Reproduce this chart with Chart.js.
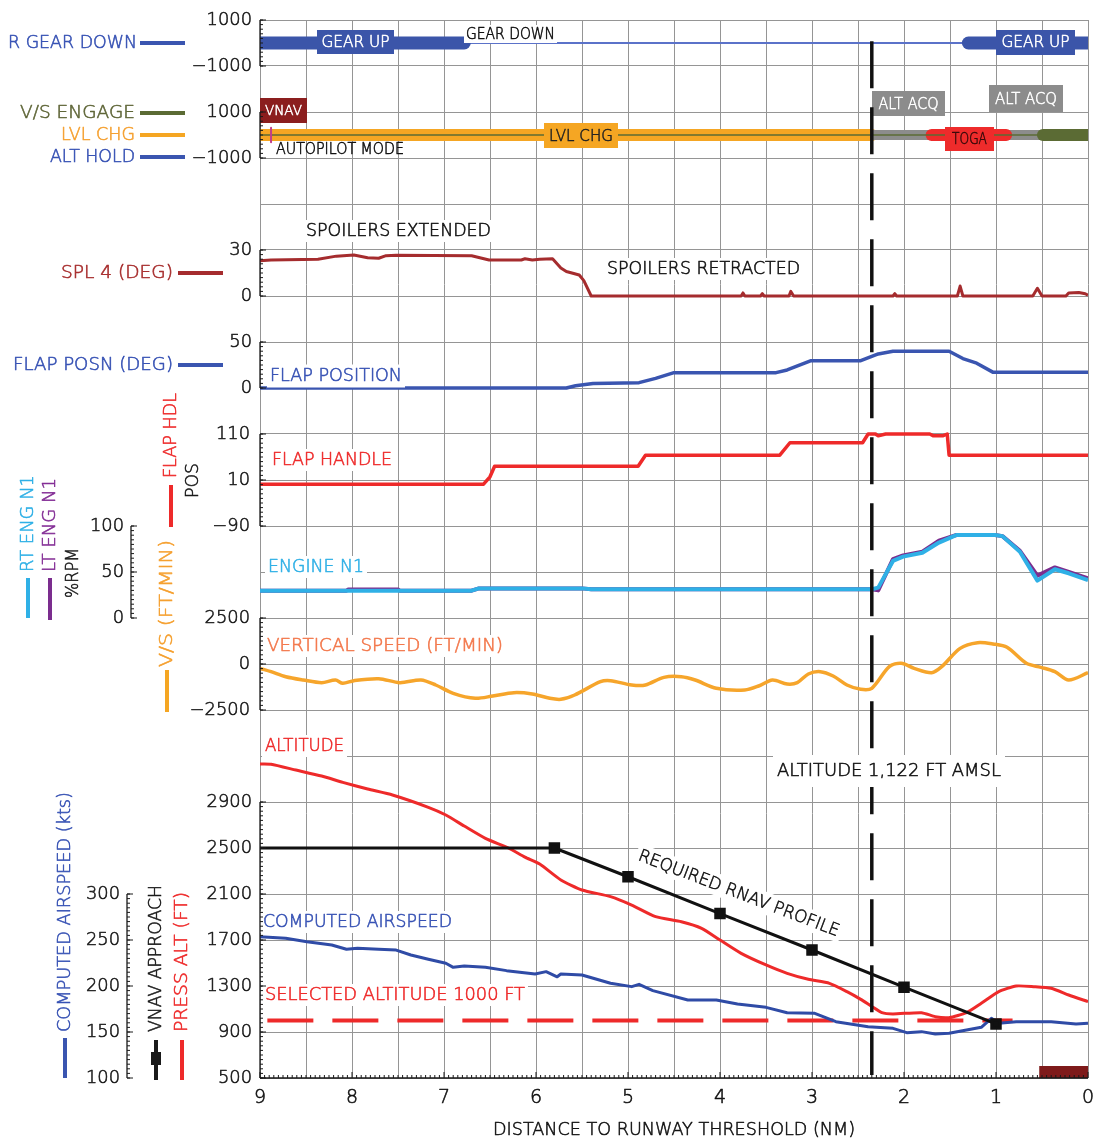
<!DOCTYPE html>
<html><head><meta charset="utf-8">
<script src="https://cdn.jsdelivr.net/npm/chart.js@4.4.1/dist/chart.umd.min.js"></script>
<style>html,body{margin:0;padding:0;background:#fff;}#wrap{width:1093px;height:1139px;}</style>
</head><body><div id="wrap"><canvas id="c" width="1093" height="1139"></canvas></div>
<script>
// ================= DATA =================
const distTicks = [9, 8, 7, 6, 5, 4, 3, 2, 1, 0];
const eventDist = [2.35, 2.35];
const eventSpan = [22.54, 0.065];

// Gear (R GEAR DOWN) state
const gearLineX = [9, 0];          const gearLineY = [0, 0];
const gearUp1X = [9, 6.78];        const gearUp1Y = [0, 0];
const gearUp2X = [1.30, 0];        const gearUp2Y = [0, 0];

// Autopilot mode state
const apLvlChgX = [9, 2.35];       const apLvlChgY = [0, 0];
const apAltAcqX = [2.35, 0.49];    const apAltAcqY = [0, 0];
const apTogaX = [1.70, 0.89];      const apTogaY = [0, 0];
const apVsX = [0.49, 0];           const apVsY = [0, 0];
const apLineX = [9, 0];            const apLineY = [0, 0];
const apMarkX = [8.88, 8.88];      const apMarkY = [320, -320];

// SPL 4 (deg)
const splX = [9, 8.88, 8.37, 8.17, 7.98, 7.83, 7.71, 7.63, 7.52, 6.70, 6.51, 6.16, 6.12, 6.04, 5.96, 5.82, 5.73, 5.67, 5.53, 5.48, 5.40, 3.77, 3.75, 3.73, 3.56, 3.54, 3.52, 3.25, 3.23, 3.20, 2.12, 2.10, 2.08, 1.42, 1.39, 1.36, 0.60, 0.55, 0.50, 0.24, 0.21, 0.10, 0.03, 0];
const splY = [23, 23.5, 24, 26, 26.7, 25, 24.6, 26.3, 26.5, 26.3, 23.5, 23.5, 24.3, 23.5, 24, 24.3, 18.3, 16, 13.7, 10, 0, 0, 2, 0, 0, 1.5, 0, 0, 3, 0, 0, 1.5, 0, 0, 6.5, 0, 0, 5, 0, 0, 2, 2.3, 1.5, 0.5];

// Flap position (deg)
const flapX = [9, 5.67, 5.57, 5.38, 4.88, 4.70, 4.50, 3.39, 3.27, 3.01, 2.47, 2.28, 2.12, 1.51, 1.36, 1.21, 1.03, 0];
const flapY = [0, 0, 2.5, 5, 5.8, 10.5, 16.7, 16.7, 19.6, 29.7, 29.7, 37, 40, 40, 32, 27, 17, 17];

// Flap handle position
const hdlX = [9, 6.57, 6.50, 6.45, 4.89, 4.81, 3.35, 3.24, 2.45, 2.39, 2.31, 2.28, 2.20, 1.72, 1.68, 1.58, 1.53, 1.51, 0];
const hdlY = [1, 1, 17, 40, 40, 64, 64, 91, 91, 110, 110, 106, 110, 110, 106, 106, 110, 64, 64];

// Engine N1 (%RPM)
const n1RtX = [9, 6.70, 6.62, 5.50, 5.40, 2.35, 2.28, 2.12, 2.01, 1.80, 1.62, 1.47, 1.43, 1.01, 0.93, 0.74, 0.55, 0.36, 0.21, 0];
const n1RtY = [29.7, 29.7, 32.2, 32.2, 31.2, 31.2, 33, 62, 66.7, 71, 82, 88.4, 90.2, 90.2, 89, 72, 40.6, 53, 48.6, 41.3];
const n1LtX = [9, 8.06, 8.04, 7.50, 7.48, 6.70, 6.62, 5.50, 5.40, 2.35, 2.28, 2.12, 2.01, 1.80, 1.62, 1.47, 1.43, 1.01, 0.93, 0.74, 0.55, 0.36, 0.21, 0];
const n1LtY = [29.7, 29.7, 31, 31, 29.7, 29.7, 32.2, 32.2, 31.2, 31.2, 30, 64, 68, 72, 84, 89, 90.2, 90.2, 89, 73, 46, 55, 50, 43];

// Vertical speed (ft/min)
const vsX = [9.0, 8.88, 8.72, 8.53, 8.33, 8.18, 8.10, 7.98, 7.71, 7.48, 7.25, 7.09, 6.90, 6.66, 6.47, 6.24, 6.04, 5.85, 5.73, 5.58, 5.30, 5.19, 4.96, 4.81, 4.61, 4.42, 4.27, 4.04, 3.73, 3.58, 3.43, 3.27, 3.16, 3.04, 2.91, 2.77, 2.62, 2.47, 2.35, 2.16, 2.03, 1.89, 1.70, 1.59, 1.39, 1.20, 1.03, 0.88, 0.67, 0.51, 0.36, 0.21, 0];
const vsY = [-235, -417, -690, -870, -1014, -870, -1050, -905, -797, -1014, -870, -1141, -1594, -1865, -1739, -1558, -1630, -1865, -1920, -1685, -960, -905, -1141, -1141, -725, -690, -870, -1322, -1413, -1196, -870, -1087, -1014, -543, -417, -652, -1141, -1377, -1322, -145, 36, -235, -472, -145, 851, 1159, 1087, 906, 36, -181, -417, -870, -472];

// Pressure altitude (ft)
const altX = [9.0, 8.88, 8.61, 8.33, 8.10, 7.83, 7.56, 7.17, 6.98, 6.78, 6.55, 6.30, 6.12, 5.96, 5.73, 5.50, 5.19, 4.96, 4.70, 4.42, 4.20, 4.00, 3.77, 3.50, 3.27, 3.04, 2.81, 2.62, 2.47, 2.35, 2.24, 2.12, 1.81, 1.66, 1.51, 1.32, 1.16, 0.97, 0.78, 0.59, 0.40, 0.21, 0];
const altY = [3230, 3228, 3178, 3126, 3071, 3013, 2961, 2854, 2787, 2691, 2584, 2500, 2420, 2360, 2222, 2135, 2077, 2004, 1903, 1859, 1802, 1700, 1584, 1483, 1410, 1358, 1323, 1251, 1184, 1122, 1068, 1057, 1068, 1033, 1025, 1068, 1149, 1251, 1300, 1294, 1280, 1222, 1164];

// Selected altitude (ft)
const selAltX = [8.92, 0.82];      const selAltY = [1000, 1000];

// Computed airspeed (kts)
const spdX = [9.0, 8.72, 8.49, 8.22, 8.06, 7.94, 7.71, 7.52, 7.36, 7.17, 6.98, 6.90, 6.78, 6.55, 6.32, 6.01, 5.89, 5.77, 5.73, 5.50, 5.19, 4.96, 4.88, 4.73, 4.35, 4.04, 3.81, 3.50, 3.27, 2.97, 2.74, 2.39, 2.12, 1.97, 1.81, 1.66, 1.51, 1.32, 1.16, 1.05, 0.97, 0.78, 0.40, 0.13, 0];
const spdY = [253.6, 251.8, 248.2, 244.6, 239.9, 241, 240, 239, 233.7, 229, 224.7, 220.3, 221.7, 220.3, 216.7, 213, 215.6, 210, 213, 212, 203, 199.3, 201.8, 195, 184.8, 184.8, 180.4, 176.8, 171, 170.3, 161.2, 155.8, 154, 149.3, 150.4, 147.8, 148.6, 152.2, 155.1, 164.9, 159.5, 161.2, 161.2, 158.7, 159.5];

// Required RNAV (VNAV approach) profile (ft)
const vnavX = [9, 5.80, 5.0, 4.0, 3.0, 2.0, 1.0];
const vnavY = [2500, 2500, 2250, 1930, 1613, 1290, 970];

// Ground state bar (bottom right)
const gndX = [0.53, 0];            const gndY = [552, 552];

// Tick labels
const gearTicks = [1000, -1000];
const apTicks = [1000, -1000];
const splTicks = [30, 0];
const flapTicks = [50, 0];
const hdlTicks = [110, 10, -90];
const vsTicks = [2500, 0, -2500];
const altTicks = [2900, 2500, 2100, 1700, 1300, 900, 500];
const n1Ticks = [100, 50, 0];
const spdTicks = [300, 250, 200, 150, 100];

// ================= RENDER =================
const FONT = '"DejaVu Sans", sans-serif';
const WEIGHT = '200';
const pts = (xs, ys) => xs.map((x, i) => ({ x, y: ys[i] }));

function drawText(ctx, s, o) {
  ctx.save();
  const size = o.size || 17;
  ctx.font = WEIGHT + ' ' + size + 'px ' + FONT;
  const m = ctx.measureText(s).width;
  const sx = o.w ? o.w / m : (o.sx || 1);
  const W = m * sx;
  ctx.translate(o.x, o.y);
  if (o.rot) ctx.rotate(o.rot);
  let x0 = 0;
  if (o.align === 'right') x0 = -W; else if (o.align === 'center') x0 = -W / 2;
  if (o.bg) {
    const p = o.pad != null ? o.pad : 3, h = o.bh || size + 5;
    ctx.fillStyle = o.bg;
    ctx.fillRect(x0 - p, -h / 2, W + 2 * p, h);
  }
  ctx.translate(x0, 0);
  ctx.scale(sx, 1);
  const col = o.color || '#111';
  ctx.fillStyle = col;
  ctx.strokeStyle = col;
  ctx.lineWidth = 0.55;
  ctx.lineJoin = 'round';
  ctx.textBaseline = 'middle';
  ctx.textAlign = 'left';
  const dy = o.dy != null ? o.dy : 1;
  ctx.fillText(s, 0, dy);
  ctx.strokeText(s, 0, dy);
  ctx.restore();
}
function box(ctx, x0, y0, x1, y1, fill, s, tcol, size, tw) {
  ctx.fillStyle = fill;
  ctx.fillRect(x0, y0, x1 - x0, y1 - y0);
  drawText(ctx, s, { x: (x0 + x1) / 2, y: (y0 + y1) / 2, align: 'center', size, color: tcol, w: tw });
}
function seg(ctx, x0, y0, x1, y1, col, w) {
  ctx.save(); ctx.strokeStyle = col; ctx.lineWidth = w; ctx.lineCap = 'butt';
  ctx.beginPath(); ctx.moveTo(x0, y0); ctx.lineTo(x1, y1); ctx.stroke(); ctx.restore();
}

const C = {
  blue: '#3a55b0', blueTxt: '#3752b4', thinBlue: '#5b72c9', orange: '#f5a623', olive: '#5b6b34',
  gray: '#8c8c8c', red: '#ee2a2a', spl: '#a52c2e', cyan: '#2fb0e6', purple: '#7b2d8e', vs: '#f6a52b',
  spd: '#2f4ba6', maroon: '#7e1a1a'
};

function drawAxis(chart, id, vals, x, labelRight, dir) {
  const ctx = chart.ctx, sc = chart.scales[id], g = chart.scales.yGrid;
  const gp = g.getPixelForValue(0) - g.getPixelForValue(1);
  const p0 = sc.getPixelForValue(vals[0]), p1 = sc.getPixelForValue(vals[vals.length - 1]);
  ctx.save();
  ctx.strokeStyle = '#1a1a1a'; ctx.lineWidth = 1.3;
  ctx.beginPath(); ctx.moveTo(x, p0); ctx.lineTo(x, p1); ctx.stroke();
  ctx.lineWidth = 1;
  for (let p = p0; p <= p1 + 0.1; p += gp / 10) {
    ctx.beginPath(); ctx.moveTo(x, p); ctx.lineTo(x + 3 * dir, p); ctx.stroke();
  }
  for (const v of vals) {
    const p = sc.getPixelForValue(v);
    ctx.beginPath(); ctx.moveTo(x, p); ctx.lineTo(x + 6 * dir, p); ctx.stroke();
    const s = v < 0 ? '\u2212' + Math.abs(v) : String(v);
    drawText(ctx, s, { x: labelRight, y: p, align: 'right', size: 17, sx: 1.05, color: '#1a1a1a' });
  }
  ctx.restore();
}

function underLabels(chart) {
  const ctx = chart.ctx;
  drawText(ctx, 'GEAR DOWN', { x: 466, y: 34, w: 89, size: 15, bg: '#fff', bh: 18, pad: 2 });
  box(ctx, 317, 30, 394, 54, '#3b55a9', 'GEAR UP', '#fff', 15, 68);
  box(ctx, 996, 30, 1075, 55, '#3b55a9', 'GEAR UP', '#fff', 15, 68);
  box(ctx, 260, 98, 307, 123, '#8b1e1e', 'VNAV', '#fff', 14, 37);
  drawText(ctx, 'AUTOPILOT MODE', { x: 276, y: 149, w: 128, size: 15 });
  box(ctx, 544, 123, 618, 148, '#f5a623', 'LVL CHG', '#222', 16, 64);
  box(ctx, 872, 91, 945, 116, '#8c8c8c', 'ALT ACQ', '#fff', 16, 60);
  box(ctx, 989, 85, 1063, 112, '#8c8c8c', 'ALT ACQ', '#fff', 16, 62);
  box(ctx, 945, 127, 994, 151, '#ee2b2b', 'TOGA', '#3a0a0a', 15, 35);
  drawText(ctx, 'SPOILERS EXTENDED', { x: 306, y: 231, w: 185, bg: '#fff' });
  drawText(ctx, 'SPOILERS RETRACTED', { x: 607, y: 269, w: 193, bg: '#fff' });
  drawText(ctx, 'FLAP HANDLE', { x: 272, y: 460, w: 120, color: C.red, bg: '#fff' });
  drawText(ctx, 'ENGINE N1', { x: 268, y: 567, w: 96, color: C.cyan, bg: '#fff' });
  drawText(ctx, 'VERTICAL SPEED (FT/MIN)', { x: 267, y: 646, w: 236, color: '#f3784c', bg: '#fff' });
  drawText(ctx, 'ALTITUDE', { x: 265, y: 746, w: 79, color: C.red, bg: '#fff' });
  drawText(ctx, 'REQUIRED RNAV PROFILE', { x: 739, y: 893, w: 214, align: 'center', rot: 21 * Math.PI / 180, bg: '#fff' });
  drawText(ctx, 'COMPUTED AIRSPEED', { x: 263, y: 922, w: 189, color: C.blueTxt, bg: '#fff' });
  drawText(ctx, 'SELECTED ALTITUDE 1000 FT', { x: 265, y: 995, w: 260, color: C.red, bg: '#fff' });
}

function overLabels(chart) {
  const ctx = chart.ctx, ca = chart.chartArea;
  drawText(ctx, 'FLAP POSITION', { x: 270, y: 376, w: 132, color: C.blueTxt, bg: '#fff', bh: 23 });
  drawText(ctx, 'ALTITUDE 1,122 FT AMSL', { x: 777, y: 771, w: 224, bg: '#fff', bh: 32, pad: 4 });

  drawAxis(chart, 'yGear', gearTicks, ca.left, 252, 1);
  drawAxis(chart, 'yAP', apTicks, ca.left, 252, 1);
  drawAxis(chart, 'ySPL', splTicks, ca.left, 252, 1);
  drawAxis(chart, 'yFLAP', flapTicks, ca.left, 252, 1);
  drawAxis(chart, 'yHDL', hdlTicks, ca.left, 250, 1);
  drawAxis(chart, 'yVS', vsTicks, ca.left, 250, 1);
  drawAxis(chart, 'yALT', altTicks, ca.left, 252, 1);
  drawAxis(chart, 'yN1', n1Ticks, 131, 124, 1);
  drawAxis(chart, 'ySPD', spdTicks, 127, 120, 1);

  const xs = chart.scales.x;
  ctx.save();
  ctx.strokeStyle = '#1a1a1a'; ctx.lineWidth = 1.3;
  ctx.beginPath(); ctx.moveTo(ca.left, ca.bottom); ctx.lineTo(ca.right, ca.bottom); ctx.stroke();
  ctx.lineWidth = 1;
  for (let k = 0; k <= 180; k++) {
    const p = xs.getPixelForValue(k / 20);
    const L = (k % 20 === 0) ? 6 : 3;
    ctx.beginPath(); ctx.moveTo(p, ca.bottom); ctx.lineTo(p, ca.bottom - L); ctx.stroke();
  }
  ctx.restore();
  for (const v of distTicks) {
    drawText(ctx, String(v), { x: xs.getPixelForValue(v), y: 1097, align: 'center', size: 19 });
  }
  drawText(ctx, 'DISTANCE TO RUNWAY THRESHOLD (NM)', { x: 493, y: 1129, w: 362, size: 18 });

  const L = [
    ['R GEAR DOWN', 8, 43, 129, C.blueTxt, 140, 185, C.blue],
    ['V/S ENGAGE', 20, 113, 115, '#5f6638', 140, 185, C.olive],
    ['LVL CHG', 61, 135, 74, '#f5a030', 140, 185, C.orange],
    ['ALT HOLD', 50, 157, 85, C.blueTxt, 140, 185, C.blue],
    ['SPL 4 (DEG)', 61, 273, 112, '#a83030', 178, 223, C.spl],
    ['FLAP POSN (DEG)', 13, 365, 160, C.blueTxt, 178, 223, C.blue]
  ];
  for (const [t, x, y, w, col, l0, l1, lc] of L) {
    drawText(ctx, t, { x, y, w, color: col, size: 17 });
    seg(ctx, l0, y, l1, y, lc, 4);
  }
  const up = -Math.PI / 2;
  const R = [
    ['FLAP HDL', 171, 478, 85, C.red, 485, 527, C.red],
    ['POS', 193, 498, 35, '#1a1a1a'],
    ['RT ENG N1', 28, 572, 97, C.cyan, 578, 618, C.cyan],
    ['LT ENG N1', 50, 572, 94, '#842f96', 578, 620, C.purple],
    ['%RPM', 73, 598, 50, '#1a1a1a'],
    ['V/S (FT/MIN)', 167, 667, 127, '#f5a030', 670, 712, C.orange],
    ['COMPUTED AIRSPEED (kts)', 65, 1032, 240, C.blueTxt, 1038, 1078, C.blue],
    ['VNAV APPROACH', 156, 1032, 147, '#1a1a1a', 1040, 1080, '#1a1a1a'],
    ['PRESS ALT (FT)', 182, 1032, 140, C.red, 1040, 1080, C.red]
  ];
  for (const r of R) {
    drawText(ctx, r[0], { x: r[1], y: r[2], w: r[3], color: r[4], rot: up, size: 17 });
    if (r[5]) seg(ctx, r[1], r[5], r[1], r[6], r[7], 4);
  }
  ctx.fillStyle = '#1a1a1a';
  ctx.fillRect(151, 1052, 10, 13);
}

const decor = {
  id: 'decor',
  beforeDatasetDraw(chart, args) {
    if (chart.data.datasets[args.index].isEvent) underLabels(chart);
  },
  afterDatasetsDraw(chart) { overLabels(chart); }
};

const base = { pointRadius: 0, fill: false, tension: 0, borderJoinStyle: 'round', spanGaps: false };
const ds = [
  { data: pts(gearLineX, gearLineY), yAxisID: 'yGear', borderColor: C.thinBlue, borderWidth: 1.8 },
  { data: pts(gearUp1X, gearUp1Y), yAxisID: 'yGear', borderColor: '#3b55a9', borderWidth: 13, borderCapStyle: 'round' },
  { data: pts(gearUp2X, gearUp2Y), yAxisID: 'yGear', borderColor: '#3b55a9', borderWidth: 13, borderCapStyle: 'round' },
  { data: pts(apLvlChgX, apLvlChgY), yAxisID: 'yAP', borderColor: C.orange, borderWidth: 12, borderCapStyle: 'round' },
  { data: pts(apAltAcqX, apAltAcqY), yAxisID: 'yAP', borderColor: C.gray, borderWidth: 10 },
  { data: pts(apTogaX, apTogaY), yAxisID: 'yAP', borderColor: '#ee2b2b', borderWidth: 12, borderCapStyle: 'round' },
  { data: pts(apVsX, apVsY), yAxisID: 'yAP', borderColor: C.olive, borderWidth: 12, borderCapStyle: 'round' },
  { data: pts(apLineX, apLineY), yAxisID: 'yAP', borderColor: C.olive, borderWidth: 1.5 },
  { data: pts(apMarkX, apMarkY), yAxisID: 'yAP', borderColor: '#c0408a', borderWidth: 2 },
  { data: pts(splX, splY), yAxisID: 'ySPL', borderColor: C.spl, borderWidth: 3 },
  { data: pts(flapX, flapY), yAxisID: 'yFLAP', borderColor: C.blue, borderWidth: 3.5 },
  { data: pts(hdlX, hdlY), yAxisID: 'yHDL', borderColor: C.red, borderWidth: 3.5 },
  { data: pts(n1LtX, n1LtY), yAxisID: 'yN1', borderColor: C.purple, borderWidth: 4 },
  { data: pts(n1RtX, n1RtY), yAxisID: 'yN1', borderColor: C.cyan, borderWidth: 4 },
  { data: pts(vsX, vsY), yAxisID: 'yVS', borderColor: C.vs, borderWidth: 3.5, tension: 0.3 },
  { data: pts(selAltX, selAltY), yAxisID: 'yALT', borderColor: C.red, borderWidth: 4, borderDash: [46, 19] },
  { data: pts(altX, altY), yAxisID: 'yALT', borderColor: C.red, borderWidth: 3, tension: 0.2 },
  { data: pts(spdX, spdY), yAxisID: 'ySPD', borderColor: C.spd, borderWidth: 3 },
  { data: pts(vnavX, vnavY), yAxisID: 'yALT', borderColor: '#111', borderWidth: 3,
    pointRadius: [0, 6, 6, 6, 6, 6, 6], pointStyle: 'rect', pointBackgroundColor: '#111', pointBorderColor: '#111' },
  { data: pts(gndX, gndY), yAxisID: 'yALT', borderColor: C.maroon, borderWidth: 12 },
  { data: pts(eventDist, eventSpan), yAxisID: 'yGrid', borderColor: '#111', borderWidth: 3.5, borderDash: [47, 19], isEvent: true }
].map((d, i) => Object.assign({}, base, d, { order: -i }));

const hidden = (min, max) => ({ type: 'linear', display: false, min, max });

new Chart(document.getElementById('c'), {
  type: 'line',
  data: { datasets: ds },
  options: {
    responsive: false, animation: false, devicePixelRatio: 1,
    layout: { autoPadding: false, padding: { left: 260, right: 5, top: 20, bottom: 0 } },
    plugins: { legend: { display: false }, tooltip: { enabled: false } },
    scales: {
      x: {
        type: 'linear', reverse: true, min: 0, max: 9, position: 'bottom',
        ticks: { stepSize: 0.5, display: false },
        grid: { color: '#959595', lineWidth: 1, drawTicks: false },
        border: { display: false },
        afterFit: s => { s.height = 61; }
      },
      yGrid: {
        type: 'linear', position: 'left', min: 0, max: 23,
        ticks: { stepSize: 1, display: false },
        grid: { color: '#959595', lineWidth: 1, drawTicks: false },
        border: { display: false },
        afterFit: s => { s.width = 0; }
      },
      yGear: hidden(-45000, 1000),
      yAP: hidden(-41000, 5000),
      ySPL: hidden(-510, 180),
      yFLAP: hidden(-750, 400),
      yHDL: hidden(-1290, 1010),
      yN1: hidden(-500, 650),
      yVS: hidden(-22500, 35000),
      yALT: hidden(500, 9700),
      ySPD: hidden(100, 1250)
    }
  },
  plugins: [decor]
});
</script></body></html>
